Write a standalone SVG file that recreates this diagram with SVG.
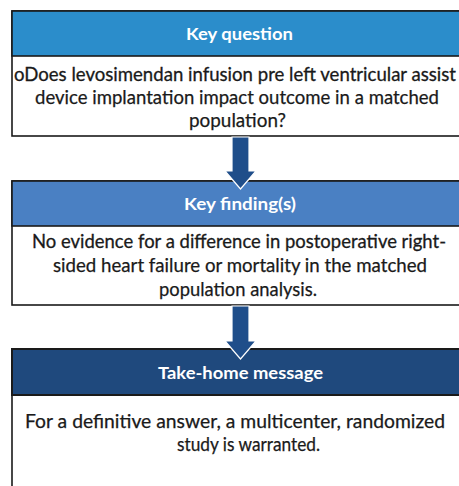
<svg xmlns="http://www.w3.org/2000/svg" width="459" height="486" viewBox="0 0 459 486">
<style>
.box{fill:#ffffff;stroke:#1a1a1a;stroke-width:1.6}
.head{font-family:Lato,"Open Sans","Liberation Sans",sans-serif;font-weight:bold;font-size:17.5px;fill:#ffffff}
.body{font-family:Lato,"Open Sans","Liberation Sans",sans-serif;font-size:19.5px;fill:#1a1a1a;stroke:#1a1a1a;stroke-width:0.25}
.long{font-size:18.6px;stroke-width:0.3}
.arrow{fill:#1f4e8a;stroke:#ffffff;stroke-width:1.2;stroke-linejoin:miter}
</style>
<rect x="0" y="0" width="459" height="486" fill="#ffffff"/>
<g id="key-question">
<rect class="box" x="12" y="11" width="460" height="125"/>
<rect x="12" y="11" width="460" height="45" fill="#2b8dcb" stroke="#1a1a1a" stroke-width="1.6"/>
<text class="head" x="186" y="40" textLength="107" lengthAdjust="spacingAndGlyphs">Key question</text>
<text class="body long" x="14" y="81" textLength="442" lengthAdjust="spacingAndGlyphs">oDoes levosimendan infusion pre left ventricular assist</text>
<text class="body" x="35" y="104" textLength="404" lengthAdjust="spacingAndGlyphs">device implantation impact outcome in a matched</text>
<text class="body" x="189" y="127" textLength="97" lengthAdjust="spacingAndGlyphs">population?</text>
</g>
<g id="key-findings">
<rect class="box" x="12" y="181" width="460" height="124"/>
<rect x="12" y="181" width="460" height="45" fill="#4a80c3" stroke="#1a1a1a" stroke-width="1.6"/>
<text class="head" x="184" y="210" textLength="112" lengthAdjust="spacingAndGlyphs">Key finding(s)</text>
<text class="body long" x="32" y="248" textLength="414" lengthAdjust="spacingAndGlyphs">No evidence for a difference in postoperative right-</text>
<text class="body" x="53" y="272" textLength="374" lengthAdjust="spacingAndGlyphs">sided heart failure or mortality in the matched</text>
<text class="body" x="159" y="296" textLength="158" lengthAdjust="spacingAndGlyphs">population analysis.</text>
</g>
<g id="take-home">
<rect class="box" x="12" y="349" width="460" height="160"/>
<rect x="12" y="349" width="460" height="46" fill="#1f497d" stroke="#1a1a1a" stroke-width="2"/>
<text class="head" x="158" y="379" textLength="165" lengthAdjust="spacingAndGlyphs">Take-home message</text>
<text class="body" x="25" y="428" textLength="420" lengthAdjust="spacingAndGlyphs">For a definitive answer, a multicenter, randomized</text>
<text class="body" x="177" y="451" textLength="143" lengthAdjust="spacingAndGlyphs">study is warranted.</text>
</g>
<g id="connectors">
<polygon class="arrow" points="232,137 249,137 249,171 256,171 240.5,189 225,171 232,171"/>
<polygon class="arrow" points="232,306 249,306 249,341 256,341 240.5,359 225,341 232,341"/>
</g>
</svg>
